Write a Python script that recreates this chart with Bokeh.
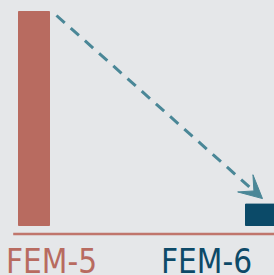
from bokeh.plotting import figure
from bokeh.models import Range1d, Arrow, VeeHead, ColumnDataSource
from bokeh.embed import file_html
from bokeh.resources import INLINE
from bokeh.core.properties import value
from jinja2 import Template

# ---- data ----
categories = ["FEM-5", "FEM-6"]
values = [100, 10]
bar_colors = ["#b86b60", "#0b4a68"]
label_colors = ["#b86b60", "#0d4a68"]

# ---- layout (pixels) ----
BG = "#e5e7e9"
W, H = 274, 275
PX = 227.0            # pixels per category step
PY = 2.14             # pixels per value unit
x0 = -33.5 / PX
x1 = x0 + W / PX
y0 = -50.0 / PY
y1 = 225.0 / PY
bar_w = 31.0 / PX
label_dx = [17.5, -54.5]

p = figure(width=W, height=H, x_range=Range1d(x0, x1), y_range=Range1d(y0, y1),
           output_backend="svg", toolbar_location=None, min_border=0)
p.background_fill_color = BG
p.border_fill_color = BG
p.outline_line_color = None
p.xaxis.visible = False
p.yaxis.visible = False
p.xgrid.visible = False
p.ygrid.visible = False

idx = list(range(len(categories)))
src = ColumnDataSource(dict(x=idx, top=values, color=bar_colors, cat=categories,
                            lc=label_colors, dx=label_dx))

p.vbar(x="x", top="top", bottom=0, width=bar_w, color="color", source=src)

# baseline
p.segment(x0=[x0 + 12.7 / PX], y0=[-8.5 / PY], x1=[x1], y1=[-8.5 / PY],
          line_color="#c0766c", line_width=2.5)

# dashed arrow from first bar top to second bar top
ax0 = idx[0] + 22.5 / PX
ay0 = values[0] - 4.0 / PY
ax1 = idx[1] + 1.5 / PX
ay1 = values[1] + 5.5 / PY
p.add_layout(Arrow(end=VeeHead(size=23, fill_color="#4a8797", line_color="#4a8797", line_width=1),
                   x_start=ax0, y_start=ay0, x_end=ax1, y_end=ay1,
                   line_color="#4a8797", line_width=3, line_dash="11 8"))

# labels (top of caps at ~249px)
p.text(x="x", y=-16.0 / PY, text="cat", x_offset="dx", source=src,
       text_color="lc",
       text_font=value("'DejaVu Sans Condensed', 'Liberation Sans'"),
       text_font_size="33px", text_align="center", text_baseline="top")

tpl = Template("""{% extends base %}
{% block postamble %}<style>html,body{background:#e5e7e9;overflow:hidden;}</style>{% endblock %}""")

open("out.html", "w").write(file_html(p, INLINE, template=tpl))
